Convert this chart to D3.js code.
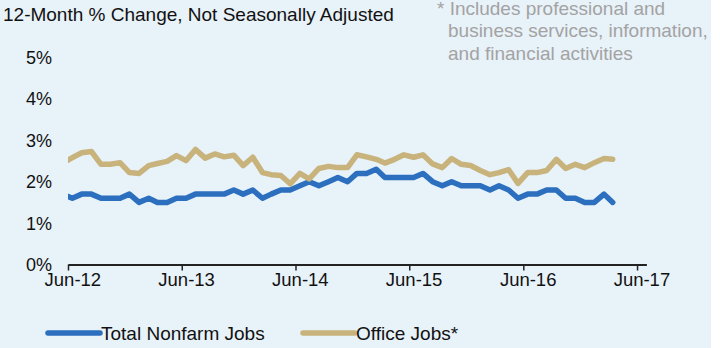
<!DOCTYPE html>
<html><head><meta charset="utf-8">
<script src="https://cdn.jsdelivr.net/npm/d3@7"></script>
<style>
html,body{margin:0;padding:0;background:#fff;}
svg{display:block;font-family:"Liberation Sans",Arial,sans-serif;}
</style></head>
<body>
<script>
// Months: May-12 (clipped at axis start) through Mar-17
const startMonth = "2012-05";
const totalNonfarm = [1.7,
  1.6,1.7,1.7,1.6,1.6,1.6,1.7,1.5,1.6,1.5,1.5,1.6,
  1.6,1.7,1.7,1.7,1.7,1.8,1.7,1.8,1.6,1.7,1.8,1.8,
  1.9,2.0,1.9,2.0,2.1,2.0,2.2,2.2,2.3,2.1,2.1,2.1,
  2.1,2.2,2.0,1.9,2.0,1.9,1.9,1.9,1.8,1.9,1.8,1.6,
  1.7,1.7,1.8,1.8,1.6,1.6,1.5,1.5,1.7,1.5];
const officeJobs = [2.45,
  2.58,2.70,2.73,2.42,2.42,2.46,2.22,2.20,2.39,2.44,2.49,2.63,
  2.51,2.78,2.57,2.67,2.60,2.64,2.39,2.59,2.22,2.17,2.15,1.95,
  2.20,2.07,2.32,2.37,2.34,2.34,2.65,2.60,2.54,2.45,2.54,2.65,
  2.59,2.65,2.43,2.34,2.56,2.42,2.39,2.27,2.17,2.22,2.29,1.96,
  2.22,2.22,2.27,2.54,2.32,2.42,2.34,2.46,2.56,2.54];
const yTicks = [0,1,2,3,4,5];
const xTickLabels = ["Jun-12","Jun-13","Jun-14","Jun-15","Jun-16","Jun-17"];
const seriesNames = ["Total Nonfarm Jobs","Office Jobs*"];
const titleText = "12-Month % Change, Not Seasonally Adjusted";
const noteLines = ["* Includes professional and","business services, information,","and financial activities"];

const W = 720, H = 348;
const colors = ["#2b6fbe", "#c8b37c"];
const parse = d3.timeParse("%Y-%m");
const t0 = parse(startMonth);
const dates = totalNonfarm.map((_, i) => d3.timeDay.offset(d3.timeMonth.offset(t0, i), 14));

const svg = d3.select("body").append("svg").attr("width", W).attr("height", H);
svg.append("rect").attr("width", 711).attr("height", H).attr("fill", "#e8f2f9");

const x = d3.scaleTime().domain([new Date(2012,5,1), new Date(2017,6,1)]).range([68, 646.4]);
const y = d3.scaleLinear().domain([0,5]).range([264.5, 57.5]);

// title
svg.append("text").attr("x", 3).attr("y", 21).attr("font-size", 19).attr("fill", "#111").text(titleText);
// footnote
svg.append("g").selectAll("text").data(noteLines).join("text")
  .attr("x", (d,i) => i === 0 ? 437 : 448)
  .attr("y", (d,i) => 14.5 + i*22.5)
  .attr("font-size", 19).attr("fill", "#a3a3a3")
  .text(d => d);

// y labels
svg.append("g").selectAll("text").data(yTicks).join("text")
  .attr("x", 52).attr("y", d => y(d) + 6.5)
  .attr("text-anchor", "end").attr("font-size", 18).attr("fill", "#111")
  .text(d => d + "%");

// x axis
const tickDates = xTickLabels.map((_, i) => new Date(2012 + i, 5, 1));
const xAxis = d3.axisBottom(x).tickValues(tickDates).tickSize(6).tickSizeOuter(0)
  .tickFormat((d, i) => xTickLabels[i]);
const gx = svg.append("g").attr("transform", `translate(0,${y(0)})`).call(xAxis);
gx.select(".domain").attr("stroke", "#222").attr("stroke-width", 2);
gx.selectAll(".tick line").attr("stroke", "#222").attr("stroke-width", 1.5);
const halfMonth = x(new Date(2012,5,15)) - x(new Date(2012,5,1));
gx.selectAll(".tick text").attr("font-size", 18.5).attr("fill", "#111")
  .attr("font-family", "Liberation Sans, Arial, sans-serif")
  .attr("dx", halfMonth).attr("y", 21).attr("dy", 0);

// clip
svg.append("clipPath").attr("id", "clip").append("rect")
  .attr("x", x.range()[0]).attr("y", 0).attr("width", 700).attr("height", H);

const line = d3.line().x((d,i) => x(dates[i])).y(d => y(d));
[totalNonfarm, officeJobs].forEach((s, k) => {
  svg.append("path").datum(s).attr("d", line)
    .attr("clip-path", "url(#clip)")
    .attr("fill", "none").attr("stroke", colors[k]).attr("stroke-width", 5.5)
    .attr("stroke-linejoin", "round").attr("stroke-linecap", "round");
});

// legend
const legX = [46, 301];
const lg = svg.append("g").selectAll("g").data(seriesNames).join("g")
  .attr("transform", (d,i) => `translate(${legX[i]},333)`);
lg.append("line").attr("x1", 2).attr("x2", 54).attr("y1", 0).attr("y2", 0)
  .attr("stroke", (d,i) => colors[i]).attr("stroke-width", 5.5).attr("stroke-linecap", "round");
lg.append("text").attr("x", 55).attr("y", 6.5).attr("font-size", 19).attr("fill", "#111").text(d => d);
</script>
</body></html>
